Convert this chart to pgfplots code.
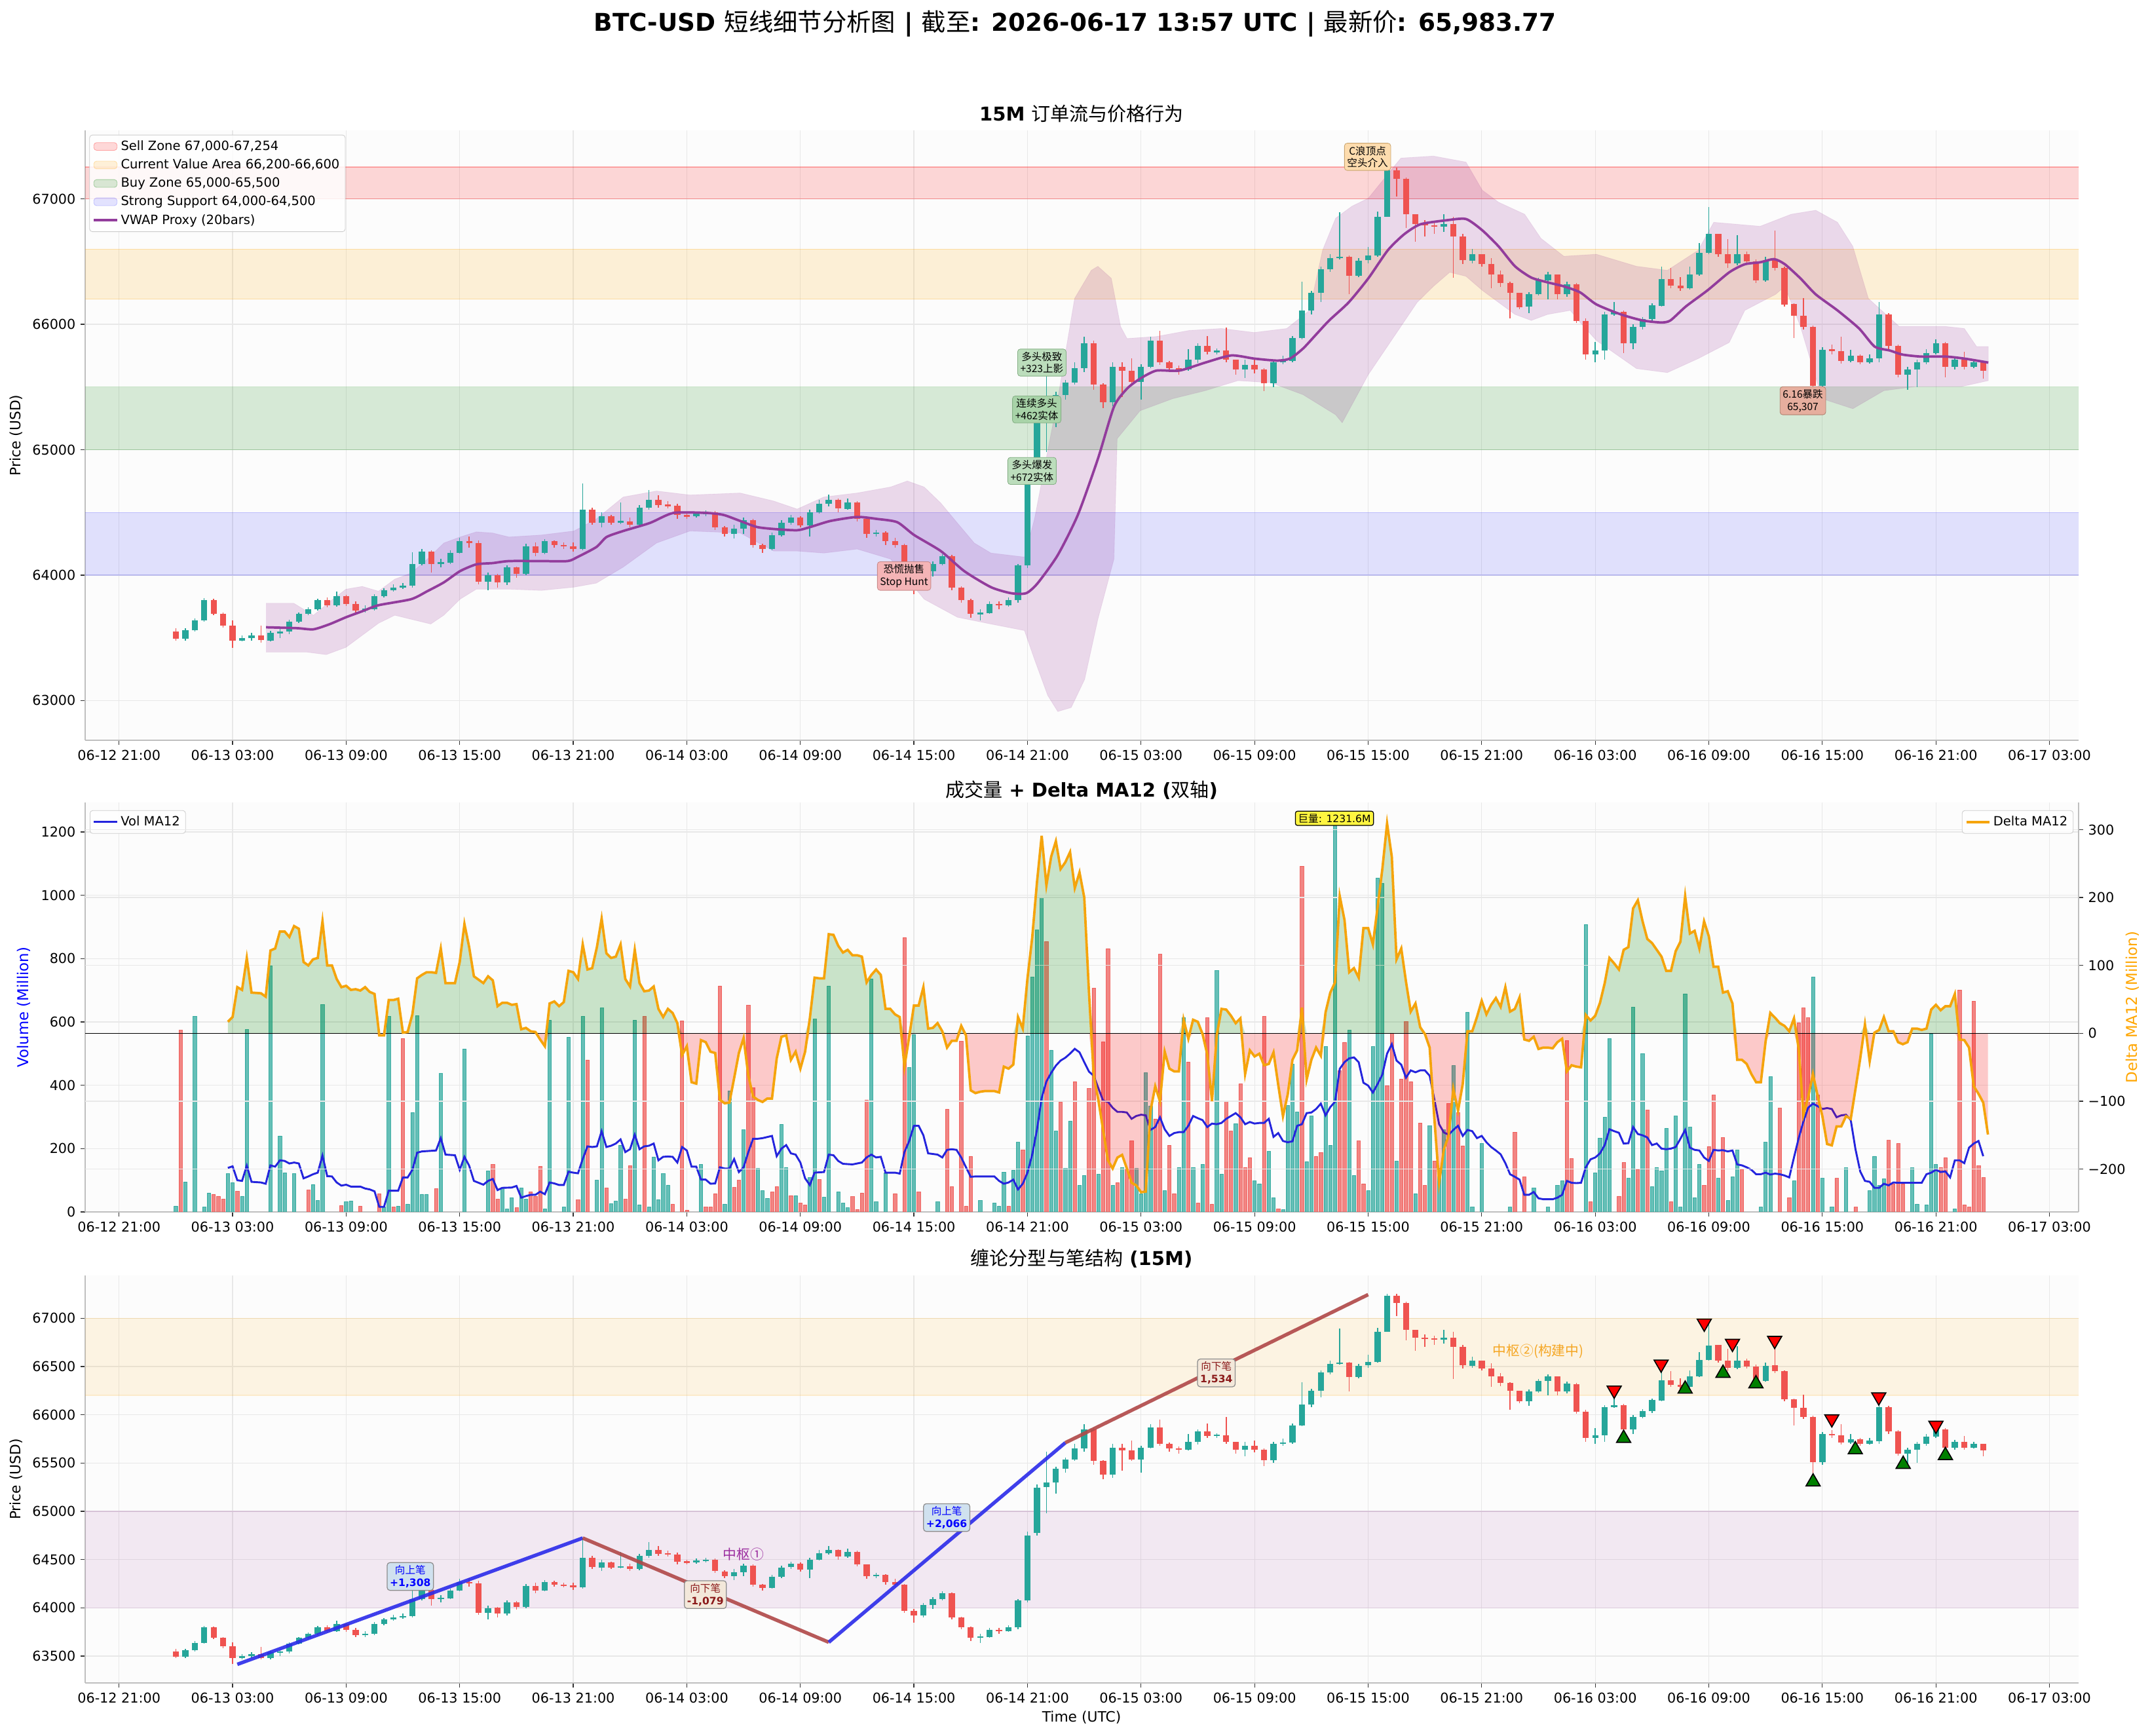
\documentclass[border=0pt]{standalone}
\usepackage{fontspec}
\setmainfont{DejaVu Sans}
\newfontfamily\cjk{Noto Sans CJK SC}
\usepackage{pgfplots}
\pgfplotsset{compat=1.18}
\usepackage{pgfplotstable}

\definecolor{axbg}{HTML}{FCFCFC}
\definecolor{upc}{HTML}{26A69A}
\definecolor{dnc}{HTML}{EF5350}
\definecolor{vwapc}{HTML}{923C9C}
\definecolor{volblue}{HTML}{2424DD}
\definecolor{deltaor}{HTML}{F5A40C}
\definecolor{bandpur}{HTML}{800080}
\definecolor{zgreen}{HTML}{008000}
\definecolor{zblue}{HTML}{0000FF}
\definecolor{zorange}{HTML}{FFA500}
\definecolor{annC}{HTML}{FDDCAE}
\definecolor{annCb}{HTML}{C9A46E}
\definecolor{annG}{HTML}{BCDDBC}
\definecolor{annGt}{HTML}{A8D3A8}
\definecolor{annGb}{HTML}{86B086}
\definecolor{annR}{HTML}{F4B4B6}
\definecolor{annRb}{HTML}{C98A8A}
\definecolor{annS}{HTML}{E6AE9E}
\definecolor{annSb}{HTML}{B0806E}
\definecolor{biblue}{HTML}{D0E1EF}
\definecolor{bibox}{HTML}{F3E8DA}
\definecolor{biup}{HTML}{2B2BEA}
\definecolor{bidn}{HTML}{B04848}
\definecolor{zsk}{HTML}{9B2D9F}
\definecolor{zskt}{HTML}{F5A623}
\definecolor{bitxtdn}{HTML}{8B1A1A}

\pgfplotstableread{
t o h l c
3.0 63550 63575 63480 63495
3.5 63495 63575 63480 63560
4.0 63560 63655 63550 63640
4.5 63640 63815 63630 63800
5.0 63800 63810 63680 63690
5.5 63690 63700 63580 63600
6.0 63600 63640 63420 63480
6.5 63480 63520 63470 63500
7.0 63500 63540 63480 63520
7.5 63520 63600 63465 63480
8.0 63480 63555 63470 63540
8.5 63540 63570 63500 63550
9.0 63550 63645 63530 63630
9.5 63630 63700 63620 63690
10.0 63690 63745 63680 63730
10.5 63730 63815 63720 63800
11.0 63800 63820 63745 63760
11.5 63760 63870 63750 63835
12.0 63835 63845 63755 63770
12.5 63770 63790 63700 63720
13.0 63720 63760 63700 63730
13.5 63730 63850 63720 63835
14.0 63835 63895 63820 63880
14.5 63880 63930 63870 63900
15.0 63900 63940 63890 63915
15.5 63915 64180 63900 64090
16.0 64090 64210 64080 64190
16.5 64190 64200 64020 64090
17.0 64090 64130 64060 64100
17.5 64100 64200 64090 64180
18.0 64180 64300 64170 64270
18.5 64270 64310 64220 64255
19.0 64255 64280 63930 63950
19.5 63950 64020 63880 64000
20.0 64000 64010 63900 63940
20.5 63940 64080 63920 64060
21.0 64060 64070 63980 64010
21.5 64010 64250 64000 64230
22.0 64230 64260 64150 64180
22.5 64180 64290 64170 64270
23.0 64270 64280 64220 64240
23.5 64240 64260 64210 64230
24.0 64230 64260 64190 64210
24.5 64210 64730 64200 64520
25.0 64520 64540 64400 64420
25.5 64420 64500 64380 64470
26.0 64470 64480 64400 64420
26.5 64420 64580 64410 64430
27.0 64430 64460 64380 64400
27.5 64400 64560 64390 64540
28.0 64540 64680 64520 64600
28.5 64600 64640 64540 64560
29.0 64560 64590 64530 64555
29.5 64555 64570 64450 64480
30.0 64480 64500 64450 64470
30.5 64470 64510 64460 64490
31.0 64490 64520 64470 64500
31.5 64500 64510 64360 64380
32.0 64380 64390 64310 64330
32.5 64330 64400 64290 64370
33.0 64370 64460 64330 64440
33.5 64440 64450 64220 64240
34.0 64240 64250 64180 64210
34.5 64210 64340 64200 64320
35.0 64320 64440 64310 64420
35.5 64420 64480 64400 64460
36.0 64460 64470 64380 64400
36.5 64400 64520 64310 64500
37.0 64500 64600 64490 64570
37.5 64570 64640 64550 64600
38.0 64600 64610 64500 64530
38.5 64530 64610 64520 64580
39.0 64580 64590 64430 64450
39.5 64450 64450 64300 64330
40.0 64330 64360 64310 64340
40.5 64340 64350 64240 64270
41.0 64270 64300 64220 64240
41.5 64240 64250 63950 63970
42.0 63970 63990 63850 63920
42.5 63920 64050 63900 64030
43.0 64030 64110 63990 64090
43.5 64090 64170 64080 64150
44.0 64150 64160 63880 63900
44.5 63900 63910 63780 63800
45.0 63800 63810 63660 63690
45.5 63690 63730 63640 63700
46.0 63700 63790 63690 63770
46.5 63770 63790 63730 63760
47.0 63760 63820 63750 63800
47.5 63800 64090 63780 64080
48.0 64080 64790 64060 64752
48.5 64780 65280 64750 65242
49.0 65250 65620 64980 65297
49.5 65297 65460 65180 65440
50.0 65440 65560 65400 65535
50.5 65535 65700 65520 65650
51.0 65650 65900 65620 65850
51.5 65850 65870 65480 65520
52.0 65520 65530 65330 65380
52.5 65380 65700 65350 65660
53.0 65660 65700 65420 65630
53.5 65630 65730 65520 65540
54.0 65540 65680 65400 65660
54.5 65660 65900 65650 65870
55.0 65870 65950 65680 65700
55.5 65700 65710 65620 65650
56.0 65650 65670 65600 65640
56.5 65640 65800 65630 65720
57.0 65720 65850 65690 65830
57.5 65830 65910 65760 65780
58.0 65780 65810 65760 65790
58.5 65790 65975 65700 65720
59.0 65720 65720 65600 65640
59.5 65640 65720 65570 65680
60.0 65680 65730 65610 65640
60.5 65640 65650 65470 65530
61.0 65530 65720 65500 65700
61.5 65700 65750 65680 65710
62.0 65710 65910 65700 65890
62.5 65890 66340 65880 66110
63.0 66110 66270 66080 66250
63.5 66250 66460 66180 66440
64.0 66440 66560 66420 66530
64.5 66530 66894 66520 66540
65.0 66540 66550 66240 66390
65.5 66390 66530 66380 66510
66.0 66510 66620 66490 66550
66.5 66550 66900 66540 66860
67.0 66860 67250 66860 67230
67.5 67230 67250 67020 67160
68.0 67160 67170 66770 66880
68.5 66880 66880 66660 66800
69.0 66800 66830 66700 66790
69.5 66790 66820 66720 66780
70.0 66780 66880 66740 66800
70.5 66800 66860 66370 66700
71.0 66700 66720 66480 66510
71.5 66510 66600 66490 66560
72.0 66560 66560 66460 66480
72.5 66480 66530 66290 66400
73.0 66400 66430 66300 66330
73.5 66330 66340 66050 66250
74.0 66250 66250 66120 66140
74.5 66140 66260 66090 66240
75.0 66240 66370 66230 66350
75.5 66350 66420 66200 66400
76.0 66400 66400 66200 66240
76.5 66240 66340 66220 66320
77.0 66320 66330 66010 66030
77.5 66030 66050 65720 65760
78.0 65760 65860 65700 65790
78.5 65790 66100 65720 66080
79.0 66080 66180 66070 66100
79.5 66100 66110 65770 65850
80.0 65850 66000 65800 65980
80.5 65980 66060 65960 66040
81.0 66040 66170 66020 66150
81.5 66150 66460 66140 66360
82.0 66360 66450 66290 66310
82.5 66310 66380 66270 66290
83.0 66290 66460 66280 66400
83.5 66400 66650 66390 66570
84.0 66570 66936 66560 66720
84.5 66720 66720 66540 66560
85.0 66560 66680 66450 66490
85.5 66490 66710 66470 66560
86.0 66560 66580 66480 66500
86.5 66500 66520 66330 66350
87.0 66350 66540 66340 66510
87.5 66510 66750 66430 66450
88.0 66450 66460 66140 66160
88.5 66160 66170 65890 66070
89.0 66070 66210 65960 65980
89.5 65980 65990 65307 65510
90.0 65510 65820 65480 65800
90.5 65800 65840 65760 65790
91.0 65790 65900 65690 65710
91.5 65710 65800 65700 65750
92.0 65750 65760 65680 65700
92.5 65700 65760 65690 65730
93.0 65730 66180 65700 66080
93.5 66080 66090 65800 65830
94.0 65830 65840 65580 65600
94.5 65600 65660 65480 65640
95.0 65640 65720 65500 65700
95.5 65700 65800 65680 65770
96.0 65770 65880 65760 65850
96.5 65850 65860 65580 65660
97.0 65660 65740 65640 65720
97.5 65720 65780 65640 65660
98.0 65660 65720 65650 65700
98.5 65700 65700 65570 65630
}\candletab

\pgfplotstableread{
h d
5.75 17
6.0 24
6.25 68
6.5 64
6.75 111
7.0 60
7.5 59
7.75 54
8.0 122
8.25 125
8.5 150
8.75 150
9.0 142
9.25 158
9.5 154
9.75 105
10.0 100
10.25 109
10.5 111
10.75 165
11.0 100
11.25 100
11.5 80
11.75 68
12.0 70
12.25 64
12.5 65
12.75 63
13.0 68
13.25 61
13.5 58
13.75 -3
14.0 -3
14.25 49
14.5 49
14.75 51
15.0 1
15.25 2
15.5 28
15.75 81
16.0 86
16.25 90
16.5 90
16.75 89
17.0 125
17.25 74
17.5 74
17.75 74
18.0 105
18.25 161
18.5 127
18.75 84
19.0 79
19.25 74
19.5 84
19.75 78
20.0 40
20.25 45
20.5 45
20.75 42
21.0 43
21.25 6
21.5 8
21.75 3
22.0 2
22.25 -9
22.5 -19
22.75 44
23.0 47
23.25 40
23.5 46
23.75 92
24.0 90
24.25 80
24.5 131
24.75 94
25.0 96
25.25 127
25.5 169
25.75 118
26.0 111
26.25 113
26.5 131
26.75 80
27.0 69
27.25 123
27.5 74
27.75 62
28.0 63
28.25 69
28.5 36
28.75 24
29.0 36
29.25 30
29.5 15
29.75 -32
30.0 -19
30.25 -72
30.5 -74
30.75 -10
31.0 -13
31.25 -27
31.5 -29
31.75 -98
32.0 -103
32.25 -102
32.5 -66
32.75 -29
33.0 -7
33.25 -62
33.5 -93
33.75 -98
34.0 -101
34.25 -96
34.5 -96
34.75 -37
35.0 -5
35.25 -3
35.5 -39
35.75 -27
36.0 -52
36.25 -27
36.5 22
36.75 82
37.0 81
37.25 81
37.5 146
37.75 145
38.0 129
38.25 119
38.5 123
38.75 115
39.0 115
39.25 113
39.5 75
39.75 86
40.0 94
40.25 86
40.5 36
40.75 36
41.0 28
41.25 24
41.5 -49
41.75 -5
42.0 41
42.25 41
42.5 68
42.75 7
43.0 8
43.25 15
43.5 3
43.75 -21
44.0 -11
44.25 -11
44.5 11
44.75 -3
45.0 -84
45.25 -88
45.5 -86
45.75 -85
46.0 -85
46.25 -85
46.5 -87
46.75 -49
47.0 -52
47.25 -46
47.5 24
47.75 7
48.0 81
48.25 141
48.5 222
48.75 291
49.0 218
49.25 260
49.5 283
49.75 242
50.0 252
50.25 267
50.5 214
50.75 237
51.0 200
51.25 60
51.5 -62
51.75 -99
52.0 -143
52.25 -187
52.5 -199
52.75 -183
53.0 -179
53.25 -199
53.5 -220
53.75 -224
54.0 -234
54.25 -233
54.5 -114
54.75 -78
55.0 -100
55.25 -27
55.5 -52
55.75 -56
56.0 -56
56.25 20
56.5 -8
56.75 20
57.0 17
57.25 -1
57.5 -31
57.75 -100
58.0 -3
58.25 36
58.5 35
58.75 26
59.0 15
59.25 22
59.5 -60
59.75 -25
60.0 -34
60.25 -30
60.5 -47
60.75 -45
61.0 -28
61.25 -76
61.5 -122
61.75 -90
62.0 -39
62.25 -25
62.5 38
62.75 -68
63.0 -39
63.25 -21
63.5 -33
63.75 31
64.0 60
64.25 75
64.5 202
64.75 167
65.0 90
65.25 96
65.5 82
65.75 155
66.0 155
66.25 131
66.5 186
66.75 242
67.0 309
67.25 260
67.5 109
67.75 125
68.0 76
68.25 32
68.5 44
68.75 9
69.0 -1
69.25 -21
69.5 -126
69.75 -220
70.0 -171
70.25 -151
70.5 -82
70.75 -114
71.0 -74
71.25 3
71.5 3
71.75 24
72.0 48
72.25 28
72.5 42
72.75 52
73.0 39
73.25 68
73.5 32
73.75 36
74.0 53
74.25 -9
74.5 -11
74.75 -5
75.0 -23
75.25 -21
75.5 -21
75.75 -22
76.0 -13
76.25 -8
76.5 -56
76.75 -47
77.0 -49
77.25 -50
77.5 27
77.75 19
78.0 26
78.25 45
78.5 74
78.75 111
79.0 103
79.25 94
79.5 123
79.75 127
80.0 184
80.25 196
80.5 165
80.75 139
81.0 133
81.25 123
81.5 113
81.75 92
82.0 92
82.25 121
82.5 135
82.75 202
83.0 147
83.25 151
83.5 125
83.75 165
84.0 143
84.25 98
84.5 98
84.75 60
85.0 62
85.25 44
85.5 -39
85.75 -39
86.0 -45
86.25 -60
86.5 -72
86.75 -72
87.0 -12
87.25 30
87.5 23
87.75 15
88.0 11
88.25 3
88.5 22
88.75 -23
89.0 -120
89.25 -94
89.5 -60
89.75 -92
90.0 -122
90.25 -163
90.5 -165
90.75 -137
91.0 -137
91.25 -122
91.5 -126
91.75 -82
92.0 -37
92.25 13
92.5 -41
92.75 1
93.0 5
93.25 24
93.5 3
93.75 3
94.0 -13
94.25 -16
94.5 -13
94.75 7
95.0 7
95.25 5
95.5 7
95.75 35
96.0 42
96.25 34
96.5 40
96.75 40
97.0 58
97.25 -9
97.5 -10
97.75 -21
98.0 -78
98.25 -89
98.5 -102
98.75 -149
}\deltatab

\newcommand\drawcandles[2]{%
\addplot[forget plot, draw=none, mark=none, restrict expr to domain={\thisrow{c}-\thisrow{o}}{0:100000}, error bars/.cd, y dir=both, y explicit, error mark=none, error bar style={draw=upc, line width=#1}] table[x=t, y expr={(\thisrow{h}+\thisrow{l})/2}, y error expr={(\thisrow{h}-\thisrow{l})/2}] {\candletab};
\addplot[forget plot, draw=none, mark=none, restrict expr to domain={\thisrow{c}-\thisrow{o}}{-100000:-0.5}, error bars/.cd, y dir=both, y explicit, error mark=none, error bar style={draw=dnc, line width=#1}] table[x=t, y expr={(\thisrow{h}+\thisrow{l})/2}, y error expr={(\thisrow{h}-\thisrow{l})/2}] {\candletab};
\addplot[forget plot, draw=none, mark=none, restrict expr to domain={\thisrow{c}-\thisrow{o}}{0:100000}, error bars/.cd, y dir=both, y explicit, error mark=none, error bar style={draw=upc, line width=#2}] table[x=t, y expr={(\thisrow{o}+\thisrow{c})/2}, y error expr={max(abs(\thisrow{c}-\thisrow{o})/2,7)}] {\candletab};
\addplot[forget plot, draw=none, mark=none, restrict expr to domain={\thisrow{c}-\thisrow{o}}{-100000:-0.5}, error bars/.cd, y dir=both, y explicit, error mark=none, error bar style={draw=dnc, line width=#2}] table[x=t, y expr={(\thisrow{o}+\thisrow{c})/2}, y error expr={max(abs(\thisrow{c}-\thisrow{o})/2,7)}] {\candletab};
}

\tikzset{
  ann/.style={rounded corners=2pt, inner sep=2pt, align=center, font=\fontsize{7.5}{9}\selectfont\cjk},
  bil/.style={rounded corners=2pt, inner sep=2pt, align=center, draw=black!45, line width=0.6pt, font=\fontsize{7.5}{9}\selectfont},
}
\pgfplotsset{
  base/.style={
    scale only axis, width=51.528cm, xmin=-1.79, xmax=103.54,
    scaled y ticks=false, scaled x ticks=false,
    tick label style={font=\fontsize{10}{12}\selectfont, black},
    tick align=outside, major tick length=3.5pt,
    tick style={black!80, line width=0.6pt},
    axis line style={black!25, line width=0.8pt},
    grid style={black!9, line width=0.6pt},
    legend style={font=\fontsize{9.4}{11}\selectfont, draw=black!20, fill=white, fill opacity=0.85, text opacity=1, rounded corners=2pt, inner sep=2.2pt, cells={anchor=west}, row sep=1.2pt, nodes={inner sep=1.9pt}},
    /pgf/number format/assume math mode=true,
  },
  xt/.style={xtick={0,6,...,102}, xticklabels={06-12 21:00,06-13 03:00,06-13 09:00,06-13 15:00,06-13 21:00,06-14 03:00,06-14 09:00,06-14 15:00,06-14 21:00,06-15 03:00,06-15 09:00,06-15 15:00,06-15 21:00,06-16 03:00,06-16 09:00,06-16 15:00,06-16 21:00,06-17 03:00}},
}

\begin{document}
\begin{tikzpicture}
\useasboundingbox (0,0) rectangle (55.575,-44.873);

% ================= TOP PANEL =================
\begin{axis}[base, xt, at={(2.2013cm,-3.3697cm)}, anchor=north west, height=15.765cm,
  ymin=62683, ymax=67547, ytick={63000,64000,65000,66000,67000}, yticklabels={63000,64000,65000,66000,67000},
  axis x line*=bottom, axis y line*=left, grid=major, axis background/.style={fill=axbg},
  legend style={at={(0.0021,0.9928)}, anchor=north west}]
\addplot[forget plot, fill=red, fill opacity=0.15, draw=red, draw opacity=0.3, line width=0.6pt] coordinates {(-10,67000)(120,67000)(120,67254)(-10,67254)};
\addplot[forget plot, fill=zorange, fill opacity=0.15, draw=zorange, draw opacity=0.25, line width=0.6pt] coordinates {(-10,66200)(120,66200)(120,66600)(-10,66600)};
\addplot[forget plot, fill=zgreen, fill opacity=0.15, draw=zgreen, draw opacity=0.2, line width=0.6pt] coordinates {(-10,65000)(120,65000)(120,65500)(-10,65500)};
\addplot[forget plot, fill=zblue, fill opacity=0.11, draw=zblue, draw opacity=0.15, line width=0.6pt] coordinates {(-10,64000)(120,64000)(120,64500)(-10,64500)};
% band
\addplot[forget plot, fill=bandpur, fill opacity=0.14, draw=bandpur, draw opacity=0.08] coordinates {
(7.77,63776)(9.23,63776)(10.27,63680)(11.3,63808)(11.99,63888)(12.85,63910)(13.71,63872)(14.57,63968)(15.43,64016)(16.29,64128)(17.16,64256)(18.02,64304)(18.88,64345)(19.74,64336)(20.6,64304)(22.32,64320)(24.04,64352)(25.22,64448)(26.64,64623)(28.4,64671)(30.17,64639)(32.82,64655)(34.59,64591)(35.83,64527)(37.24,64623)(39,64655)(40.77,64703)(41.65,64751)(42.54,64703)(43.42,64575)(44.3,64415)(45.19,64256)(46.07,64176)(47.84,64144)(48.37,64448)(49.6,65407)(50.49,66207)(51.37,66431)(51.72,66463)(52.43,66367)(52.92,65983)(53.26,65887)(54.81,65903)(56.53,65951)(58.25,65967)(59.98,65935)(61.7,65967)(62.9,66111)(63.59,66591)(64.28,66846)(65.14,66942)(66.01,67006)(67.04,67198)(67.73,67326)(69.45,67342)(71.17,67294)(72.03,67070)(72.89,66974)(74.27,66878)(75.13,66686)(76.34,66543)(78.06,66559)(80.18,66463)(81.81,66431)(83.44,66591)(84.26,66814)(86.71,66782)(88.35,66878)(89.65,66910)(90.8,66814)(91.61,66622)(92.43,66207)(94.06,65983)(96.52,65983)(97.5,65967)(98.15,65823)(98.77,65823)
(98.77,65551)(97.33,65503)(94.88,65503)(93.25,65471)(91.61,65327)(89.98,65407)(88.84,65983)(88.02,66303)(87.53,66239)(85.9,66111)(85.08,65855)(83.44,65727)(81.81,65615)(80.18,65647)(78.06,65871)(77.2,66015)(76.68,66111)(75.48,66079)(74.62,66031)(73.76,66079)(72.89,66175)(72.03,66271)(71.17,66383)(70.31,66415)(69.45,66303)(68.59,66175)(67.73,65983)(66.01,65599)(64.63,65215)(64.28,65279)(62.56,65439)(60.84,65535)(59.12,65551)(57.39,65471)(55.67,65407)(53.95,65311)(52.74,65088)(52.57,64128)(51.72,63648)(51.02,63168)(50.31,62944)(49.6,62912)(49.07,63040)(48.37,63328)(47.84,63558)(46.07,63610)(44.3,63664)(42.54,63808)(40.77,64128)(39,64208)(37.24,64176)(35.83,64192)(34.59,64192)(32.82,64336)(30.17,64352)(28.4,64256)(26.64,64064)(25.22,63936)(24.04,63904)(22.32,63878)(20.6,63888)(18.88,63888)(18.02,63808)(17.16,63680)(16.47,63610)(15.43,63648)(14.57,63680)(13.71,63616)(12.85,63520)(11.99,63424)(10.95,63366)(9.92,63386)(7.77,63386)};
\drawcandles{0.7pt}{4.5pt}
\addplot[forget plot, vwapc, line width=1.8pt, smooth, tension=0.4] coordinates {
(7.77,63584)(9.4,63577)(10.27,63568)(11.13,63609)(11.99,63664)(12.85,63712)(13.71,63760)(15.43,63808)(16.29,63872)(17.16,63942)(18.02,64032)(18.88,64086)(19.74,64096)(20.6,64112)(22.32,64112)(23.7,64112)(24.22,64144)(25.22,64224)(25.76,64304)(26.64,64352)(28.05,64416)(29.29,64496)(31.06,64496)(31.94,64480)(32.82,64432)(33.7,64384)(34.59,64368)(35.83,64358)(36.53,64384)(37.59,64432)(39,64464)(40.06,64448)(41.12,64422)(42.01,64320)(43.42,64192)(44.66,64032)(46.07,63904)(47.13,63856)(47.93,63856)(48.54,63936)(49.6,64160)(50.66,64480)(51.72,64927)(52.57,65343)(53.26,65487)(53.95,65567)(54.81,65631)(56.02,65631)(57.39,65695)(58.77,65752)(59.98,65727)(61.18,65711)(61.87,65727)(62.56,65807)(63.25,65919)(63.94,66031)(64.97,66175)(66.01,66367)(67.04,66591)(67.9,66718)(68.76,66798)(70.14,66830)(71.17,66840)(72.03,66750)(72.89,66622)(73.76,66463)(74.62,66373)(75.48,66335)(76.34,66303)(77.2,66255)(78.06,66159)(79.36,66079)(80.5,66031)(81.48,66015)(81.97,66031)(82.79,66143)(83.93,66271)(85.08,66415)(85.9,66479)(86.71,66495)(87.45,66520)(88.02,66479)(88.84,66367)(89.65,66239)(90.8,66111)(91.94,65967)(92.76,65823)(93.57,65791)(94.23,65759)(95.21,65743)(96.52,65743)(97.5,65727)(98.77,65695)};
\addlegendimage{area legend, fill=red, fill opacity=0.15, draw=red, draw opacity=0.3}
\addlegendentry{Sell Zone 67,000-67,254}
\addlegendimage{area legend, fill=zorange, fill opacity=0.15, draw=zorange, draw opacity=0.3}
\addlegendentry{Current Value Area 66,200-66,600}
\addlegendimage{area legend, fill=zgreen, fill opacity=0.15, draw=zgreen, draw opacity=0.3}
\addlegendentry{Buy Zone 65,000-65,500}
\addlegendimage{area legend, fill=zblue, fill opacity=0.11, draw=zblue, draw opacity=0.2}
\addlegendentry{Strong Support 64,000-64,500}
\addlegendimage{vwapc, line width=1.8pt}
\addlegendentry{VWAP Proxy (20bars)}
\node[ann, fill=annC, draw=annCb] at (axis cs:65.97,67336) {C浪顶点\\空头介入};
\node[ann, fill=annG, draw=annGb] at (axis cs:48.76,65695) {多头极致\\+323上影};
\node[ann, fill=annGt, draw=annGb] at (axis cs:48.49,65321) {连续多头\\+462实体};
\node[ann, fill=annG, draw=annGb] at (axis cs:48.24,64831) {多头爆发\\+672实体};
\node[ann, fill=annR, draw=annRb] at (axis cs:41.48,63993) {恐慌抛售\\Stop Hunt};
\node[ann, fill=annS, draw=annSb] at (axis cs:88.97,65391) {6.16暴跌\\65,307};
\end{axis}

% ================= MIDDLE PANEL =================
\begin{axis}[base, xt, at={(2.2013cm,-20.743cm)}, anchor=north west, height=10.583cm,
  ymin=0, ymax=1293, ytick={0,200,400,600,800,1000,1200}, yticklabels={0,200,400,600,800,1000,1200},
  axis x line*=bottom, axis y line*=left, grid=major, axis background/.style={fill=axbg},
  legend style={at={(0.0023,0.981)}, anchor=north west}]
\addplot[forget plot, ybar, bar width=0.18, bar shift=0pt, fill=upc, fill opacity=0.7, draw=upc, draw opacity=0.85, line width=0.3pt] coordinates {
(3,19)(3.5,95)(4,618)(4.5,15)(4.75,60)(5.75,121)(6,93)(6.5,50)(6.75,576)(8,778)(8.5,240)(8.75,124)(9.25,121)(10.25,87)(10.5,36)(10.75,655)(12,32)(12.25,35)(14,15)(14.25,618)(14.75,19)(15.25,25)(15.5,314)(15.75,620)(16,56)(16.25,56)(17,437)(18.25,515)(19.5,130)(20.25,76)(20.5,9)(20.75,45)(21.25,76)(21.5,40)(22.5,10)(22.75,606)(23.5,15)(23.75,552)(24.5,618)(25.25,100)(25.5,644)(26,26)(26.25,34)(26.5,211)(27.25,606)(27.5,23)(28,15)(28.25,174)(28.5,39)(28.75,121)(29,85)(30.75,150)(32,25)(32.25,383)(33,259)(33.75,137)(34,67)(34.25,43)(35,277)(35.25,141)(35.75,52)(36.5,108)(36.75,609)(37.25,46)(37.5,714)(38,64)(38.25,28)(38.5,13)(39.75,736)(40,32)(40.5,124)(41.75,456)(42,561)(43.25,32)(45.5,36)(46.25,28)(46.5,19)(46.75,126)(47.25,132)(47.5,220)(48,556)(48.25,742)(48.5,890)(48.75,995)(49.25,511)(49.5,255)(50,137)(50.25,287)(50.75,84)(51,115)(51.75,119)(52.5,84)(53,141)(53.75,137)(54,57)(54.25,440)(54.5,334)(55.25,67)(56,141)(56.25,613)(56.75,141)(57.25,150)(58,762)(58.25,119)(59,279)(60,98)(60.25,89)(60.75,191)(61,45)(61.5,7)(61.75,336)(62,467)(62.25,316)(62.75,159)(63,303)(63.75,522)(64,211)(64.25,1231.6)(65,574)(65.25,115)(66,67)(66.25,522)(66.5,1055)(66.75,1037)(67.5,160)(68.5,58)(69.25,272)(69.75,137)(70,259)(70.5,462)(71.25,631)(71.5,16)(72,216)(73.5,15)(74.75,76)(75.5,15)(76,84)(76.25,98)(77.5,908)(78,124)(78.25,233)(78.5,299)(78.75,548)(79.75,106)(80,647)(80.5,500)(81,80)(81.25,141)(81.5,130)(81.75,264)(82.25,303)(82.5,15)(82.75,689)(83,268)(83.25,45)(83.5,150)(84.5,106)(85,36)(85.25,111)(85.5,196)(86.75,15)(87,220)(87.25,427)(88.5,98)(89.5,742)(90,106)(90.5,16)(91.25,139)(92.5,67)(92.75,176)(93,84)(93.25,104)(94.75,139)(95,25)(95.5,23)(95.75,563)(96,150)(97,10)};
\addplot[forget plot, ybar, bar width=0.18, bar shift=0pt, fill=dnc, fill opacity=0.7, draw=dnc, draw opacity=0.85, line width=0.3pt] coordinates {
(3.25,574)(5,56)(5.25,50)(5.5,40)(6.25,65)(10,69)(11.75,21)(12.75,19)(13.75,58)(14.5,16)(15,548)(16.75,73)(19.75,150)(20,40)(21,13)(21.75,64)(22,50)(22.25,144)(24.25,38)(24.75,480)(25.75,76)(26.75,40)(27,146)(27.75,618)(29.25,25)(29.75,604)(30,6)(31,16)(31.25,16)(31.5,58)(31.75,714)(32.5,77)(32.75,100)(33.25,653)(33.5,392)(34.5,63)(34.75,80)(35.5,52)(36,28)(36.25,22)(37,102)(38.75,48)(39,8)(39.25,60)(39.5,354)(41,58)(41.5,867)(42.25,63)(43.75,325)(44,80)(44.5,539)(44.75,19)(45,176)(47,19)(47.75,196)(49,854)(49.75,347)(50.5,412)(51.25,390)(51.5,707)(52,537)(52.25,832)(52.75,93)(53.25,133)(53.5,224)(54.75,294)(55,814)(55.5,211)(55.75,58)(56.5,474)(57,28)(57.5,613)(57.75,25)(58.5,351)(58.75,255)(59.25,404)(59.5,141)(59.75,172)(60.5,618)(61.25,10)(62.5,1092)(63.25,176)(63.5,188)(64.5,447)(64.75,536)(65.5,224)(65.75,89)(67,399)(67.25,565)(67.75,420)(68,602)(68.25,412)(68.75,281)(69,84)(69.5,161)(70.25,342)(70.75,314)(71,209)(73.75,252)(74.25,111)(76.5,541)(76.75,168)(77.75,32)(79.25,50)(79.5,156)(80.25,133)(80.75,322)(82,32)(83.75,84)(84,207)(84.25,369)(84.75,235)(85.75,133)(87.75,328)(88.25,45)(88.75,598)(89,644)(89.25,613)(89.75,369)(90.75,106)(91.75,15)(93.5,226)(93.75,89)(94,216)(94.25,89)(96.25,141)(96.5,172)(97.25,701)(97.5,23)(97.75,15)(98,666)(98.25,146)(98.5,109)};
\addplot[volblue, line width=1.4pt] coordinates {
(5.75,139)(6,144)(6.25,100)(6.5,98)(6.75,146)(7,95)(7.5,93)(7.75,89)(8,147)(8.25,143)(8.5,163)(8.75,161)(9,153)(9.25,156)(9.5,153)(9.75,106)(10,112)(10.25,119)(10.5,124)(10.75,178)(11,113)(11.25,112)(11.5,93)(11.75,83)(12,86)(12.25,80)(12.75,80)(13,74)(13.25,71)(13.5,65)(13.75,16)(14,16)(14.25,67)(14.75,67)(15,109)(15.25,109)(15.5,133)(15.75,187)(16,191)(16.75,194)(17,233)(17.25,181)(17.75,179)(18,133)(18.25,174)(18.5,146)(18.75,98)(19,92)(19.25,86)(19.5,98)(19.75,104)(20,69)(20.25,76)(20.75,77)(21,82)(21.25,45)(21.5,50)(21.75,54)(22,54)(22.25,64)(22.5,56)(22.75,93)(23,90)(23.25,85)(23.5,85)(23.75,127)(24,124)(24.25,122)(24.5,167)(24.75,207)(25,205)(25.25,207)(25.5,255)(25.75,205)(26,209)(26.25,216)(26.5,229)(26.75,189)(27,198)(27.25,244)(27.5,198)(27.75,207)(28,209)(28.25,216)(28.5,163)(28.75,174)(29,175)(29.25,174)(29.5,156)(29.75,205)(30,194)(30.25,143)(30.5,143)(30.75,102)(31,102)(31.25,89)(31.5,90)(31.75,141)(32,137)(32.25,137)(32.5,167)(32.75,126)(33,141)(33.25,189)(33.5,231)(33.75,231)(34,233)(34.5,240)(34.75,176)(35,200)(35.25,211)(35.5,185)(35.75,181)(36,156)(36.25,106)(36.5,85)(36.75,124)(37.25,126)(37.5,181)(37.75,179)(38,161)(38.25,152)(38.75,150)(39.25,156)(39.5,172)(39.75,181)(40,172)(40.25,174)(40.5,124)(41,124)(41.25,121)(41.5,189)(41.75,224)(42,272)(42.25,272)(42.5,242)(42.75,185)(43,183)(43.25,181)(43.5,172)(43.75,196)(44,198)(44.25,196)(44.5,172)(44.75,141)(45,111)(45.25,112)(46.25,112)(46.5,98)(46.75,89)(47,93)(47.25,102)(47.5,71)(47.75,89)(48,124)(48.25,181)(48.5,259)(48.75,360)(49,412)(49.25,439)(49.5,462)(49.75,478)(50,487)(50.25,500)(50.5,515)(50.75,504)(51,473)(51.25,443)(51.5,430)(51.75,390)(52,351)(52.25,348)(52.5,329)(52.75,316)(53,316)(53.25,314)(53.5,294)(53.75,303)(54,307)(54.25,305)(54.5,259)(54.75,268)(55,299)(55.25,261)(55.5,240)(55.75,249)(56,252)(56.25,252)(56.5,272)(56.75,303)(57,296)(57.25,290)(57.5,268)(57.75,279)(58,277)(58.25,281)(58.5,294)(58.75,303)(59,312)(59.25,299)(59.5,277)(59.75,284)(60,279)(60.25,281)(60.5,281)(60.75,294)(61,237)(61.25,249)(61.5,224)(61.75,220)(62,223)(62.25,272)(62.5,277)(62.75,312)(63,314)(63.25,325)(63.5,342)(63.75,305)(64,331)(64.25,348)(64.5,452)(64.75,473)(65,485)(65.25,488)(65.5,473)(65.75,408)(66,399)(66.25,377)(66.5,404)(66.75,434)(67,500)(67.25,530)(67.5,478)(67.75,465)(68,424)(68.25,447)(68.5,441)(68.75,447)(69,447)(69.25,430)(69.5,355)(69.75,277)(70,251)(70.25,244)(70.5,259)(70.75,272)(71,240)(71.25,259)(71.5,255)(71.75,233)(72,240)(72.25,220)(72.5,205)(72.75,194)(73,182)(73.25,154)(73.5,119)(73.75,111)(74,102)(74.25,54)(74.5,54)(74.75,63)(75,43)(75.25,40)(75.75,40)(76,45)(76.25,54)(76.5,98)(76.75,92)(77,91)(77.25,92)(77.5,141)(77.75,166)(78,172)(78.25,185)(78.5,211)(78.75,261)(79,255)(79.25,250)(79.5,216)(79.75,217)(80,268)(80.25,246)(80.5,242)(80.75,235)(81,211)(81.25,216)(81.5,200)(81.75,198)(82,200)(82.25,205)(82.5,231)(82.75,259)(83,203)(83.25,196)(83.5,194)(83.75,172)(84,161)(84.25,196)(84.5,194)(84.75,195)(85,191)(85.25,194)(85.5,150)(85.75,147)(86,141)(86.25,133)(86.5,119)(86.75,119)(87,124)(87.25,118)(87.5,121)(87.75,119)(88,115)(88.25,109)(88.5,172)(88.75,233)(89,286)(89.25,329)(89.5,342)(89.75,334)(90,325)(90.25,328)(90.5,325)(90.75,299)(91,305)(91.25,307)(91.5,290)(91.75,198)(92,128)(92.25,98)(92.5,95)(92.75,76)(93,76)(93.25,89)(93.5,84)(93.75,93)(94,92)(94.25,92)(95.25,92)(95.5,119)(95.75,124)(96,133)(96.25,126)(96.5,128)(96.75,109)(97,163)(97.25,163)(97.5,154)(97.75,203)(98,216)(98.25,224)(98.5,176)};
\addlegendentry{Vol MA12}
\node[fill=yellow!75, draw=black, line width=0.6pt, rounded corners=1.5pt, inner sep=2pt, font=\fontsize{7.5}{9}\selectfont] at (axis cs:64.22,1243) {{\cjk 巨量}: 1231.6M};
\end{axis}

\begin{axis}[base, at={(2.2013cm,-20.743cm)}, anchor=north west, height=10.583cm,
  ymin=-263, ymax=340, ytick={-200,-100,0,100,200,300}, yticklabels={−200,−100,0,100,200,300},
  axis x line=none, axis y line*=right, ymajorgrids=true, xmajorgrids=false,
  legend style={at={(0.9974,0.981)}, anchor=north east}]
\addplot[forget plot, fill=zgreen, fill opacity=0.2, draw=none] table[x=h, y expr={max(\thisrow{d},0)}] {\deltatab} \closedcycle;
\addplot[forget plot, fill=red, fill opacity=0.2, draw=none] table[x=h, y expr={min(\thisrow{d},0)}] {\deltatab} \closedcycle;
\addplot[forget plot, black, line width=0.7pt] coordinates {(-10,0)(120,0)};
\addplot[deltaor, line width=1.8pt] table[x=h, y=d] {\deltatab};
\addlegendentry{Delta MA12}
\end{axis}

% ================= BOTTOM PANEL =================
\begin{axis}[base, xt, at={(2.2013cm,-32.969cm)}, anchor=north west, height=10.533cm,
  ymin=63222, ymax=67442, ytick={63500,64000,64500,65000,65500,66000,66500,67000}, yticklabels={63500,64000,64500,65000,65500,66000,66500,67000},
  axis x line*=bottom, axis y line*=left, grid=major, axis background/.style={fill=axbg}]
\addplot[forget plot, fill=zorange, fill opacity=0.1, draw=zorange, draw opacity=0.15, line width=0.6pt] coordinates {(-10,66200)(120,66200)(120,67000)(-10,67000)};
\addplot[forget plot, fill=bandpur, fill opacity=0.08, draw=bandpur, draw opacity=0.12, line width=0.6pt] coordinates {(-10,64000)(120,64000)(120,65000)(-10,65000)};
\drawcandles{0.7pt}{4.5pt}
\addplot[forget plot, biup, line width=2.6pt, opacity=0.9] coordinates {(6.25,63415)(24.5,64723)};
\addplot[forget plot, bidn, line width=2.6pt, opacity=0.9] coordinates {(24.5,64723)(37.5,63644)};
\addplot[forget plot, biup, line width=2.6pt, opacity=0.9] coordinates {(37.5,63644)(50,65710)};
\addplot[forget plot, bidn, line width=2.6pt, opacity=0.9] coordinates {(50,65710)(66,67244)};
\node[bil, fill=biblue, text=blue] at (axis cs:15.39,64325) {{\cjk 向上笔}\\\textbf{+1,308}};
\node[bil, fill=bibox, text=bitxtdn] at (axis cs:30.98,64137) {{\cjk 向下笔}\\\textbf{-1,079}};
\node[bil, fill=biblue, text=blue] at (axis cs:43.73,64935) {{\cjk 向上笔}\\\textbf{+2,066}};
\node[bil, fill=bibox, text=bitxtdn] at (axis cs:57.98,66433) {{\cjk 向下笔}\\\textbf{1,534}};
\node[text=zsk, font=\fontsize{10}{12}\selectfont\cjk] at (axis cs:33.0,64552) {中枢①};
\node[text=zskt, font=\fontsize{10}{12}\selectfont\cjk] at (axis cs:74.99,66654) {中枢②(构建中)};
\addplot[forget plot, only marks, mark=triangle*, mark size=6pt, mark options={rotate=180, fill=red, draw=black, line width=0.8pt}] coordinates {(79.0,66254)(81.48,66524)(83.76,66948)(85.25,66739)(87.48,66769)(90.5,65957)(92.98,66184)(96.0,65890)};
\addplot[forget plot, only marks, mark=triangle*, mark size=6pt, mark options={fill=zgreen, draw=black, line width=0.8pt}] coordinates {(79.5,65756)(82.75,66266)(84.75,66430)(86.49,66321)(89.51,65305)(91.74,65638)(94.27,65487)(96.5,65578)};
\end{axis}

% ================= TITLES & LABELS =================
\node[font=\fontsize{18}{22}\selectfont\bfseries] at (27.788,-0.610) {BTC-USD {\mdseries\cjk 短线细节分析图} | {\mdseries\cjk 截至}: 2026-06-17 13:57 UTC | {\mdseries\cjk 最新价}: 65,983.77};
\node[font=\fontsize{14}{17}\selectfont\bfseries] at (27.957,-2.946) {15M {\mdseries\cjk 订单流与价格行为}};
\node[font=\fontsize{14}{17}\selectfont\bfseries] at (27.957,-20.422) {{\mdseries\cjk 成交量} + Delta MA12 ({\mdseries\cjk 双轴})};
\node[font=\fontsize{14}{17}\selectfont\bfseries] at (27.957,-32.529) {{\mdseries\cjk 缠论分型与笔结构} (15M)};
\node[rotate=90, font=\fontsize{10.5}{12}\selectfont] at (0.423,-11.252) {Price (USD)};
\node[rotate=90, font=\fontsize{10.5}{12}\selectfont] at (0.423,-38.235) {Price (USD)};
\node[rotate=90, font=\fontsize{11}{13}\selectfont, text=zblue] at (0.61,-26.035) {Volume (Million)};
\node[rotate=90, font=\fontsize{11}{13}\selectfont, text=zorange] at (55.12,-26.035) {Delta MA12 (Million)};
\node[font=\fontsize{10.5}{12}\selectfont] at (27.957,-44.399) {Time (UTC)};
\end{tikzpicture}
\end{document}
